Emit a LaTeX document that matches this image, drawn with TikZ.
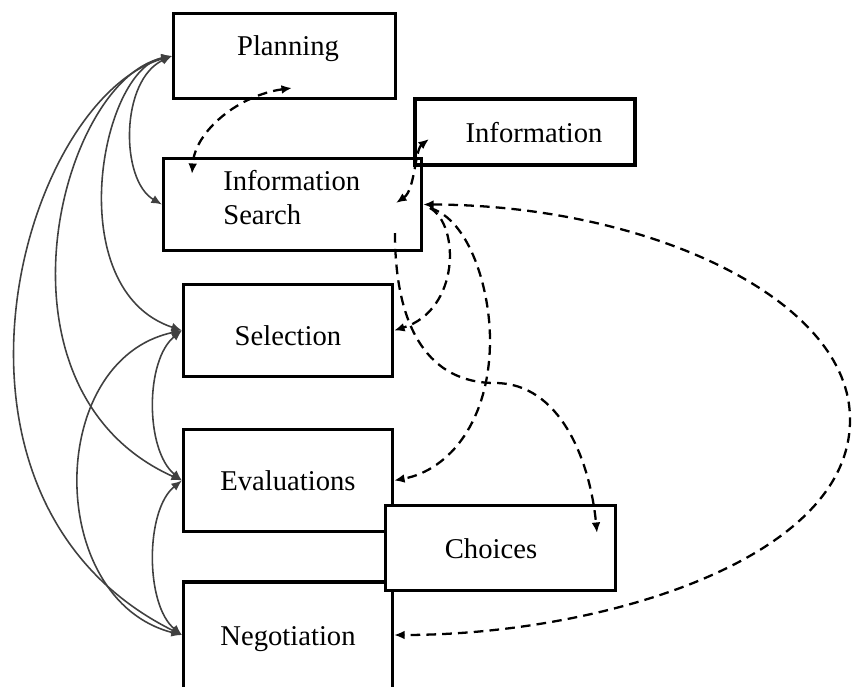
\documentclass[tikz,border=0pt]{standalone}
\usepackage{fontspec}
\setmainfont{Liberation Serif}
\usetikzlibrary{arrows.meta,calc}

\begin{document}
\begin{tikzpicture}[x=0.02cm, y=0.02cm,
    >={Latex[length=6pt,width=5pt]},
    box/.style={draw, line width=1.8pt, inner sep=0pt},
    lbl/.style={font=\fontsize{16.3}{19}\selectfont, inner sep=0pt},
    link/.style={draw=black!75, line width=0.9pt, <->},
    flow/.style={line width=1.3pt, dash pattern=on 5.5pt off 3.5pt}]

    \useasboundingbox (0,0) rectangle (853,-687);
    \clip (0,0) rectangle (853,-687);

    \node[box, minimum width=4.44cm, minimum height=1.70cm] at (284.5,-56) (plan) {};
    \node[box, line width=2.4pt, minimum width=4.40cm, minimum height=1.32cm] at (525,-132) (info) {};
    \node[box, minimum width=5.16cm, minimum height=1.84cm] at (292.5,-204.5) (isearch) {};
    \node[box, minimum width=4.18cm, minimum height=1.84cm] at (288,-330.5) (sel) {};
    \node[box, minimum width=4.18cm, minimum height=2.04cm] at (288,-480.5) (eval) {};
    \node[box, minimum width=4.18cm, minimum height=2.36cm] at (288,-641) (neg) {};
    \node[box, fill=white, minimum width=4.60cm, minimum height=1.70cm] at (500.5,-548) (choice) {};

    \node[lbl, anchor=base] at (288,-55) (planT) {Planning};
    \node[lbl, anchor=base] at (534,-142) (infoT) {Information};
    \node[lbl, anchor=base west] at (223,-190) (isearchT) {Information};
    \node[lbl, anchor=base west] at (223,-224) (isearchTT) {Search};
    \node[lbl, anchor=base] at (288,-345) (selT) {Selection};
    \node[lbl, anchor=base] at (288,-490) (evalT) {Evaluations};
    \node[lbl, anchor=base] at (288,-645) (negT) {Negotiation};
    \node[lbl, anchor=base] at (491,-558) (choiceT) {Choices};

    \coordinate (negW) at ($(neg.west)+(0,6)$);
    \coordinate (negE) at ($(neg.east)+(0,6)$);
    \coordinate (planIn) at (292,-88);
    \coordinate (isIn) at (192,-174);
    \coordinate (infoIn) at (429,-139);
    \coordinate (isInR) at (396,-203);
    \coordinate (isOut) at (430,-208);
    \coordinate (isDown) at (395,-233);
    \coordinate (choiceIn) at (597,-533);

    \draw[link] (plan.west) .. controls (120,-80) and (120,-180) .. (isearch.west);
    \draw[link] (plan.west) .. controls (100,-70) and (60,-290) .. (sel.west);
    \draw[link] (plan.west) .. controls (60,-80) and (-20,-390) .. (eval.west);
    \draw[link] (plan.west) .. controls (20,-100) and (-90,-500) .. (negW);
    \draw[link] (sel.west) .. controls (145,-360) and (145,-450) .. (eval.west);
    \draw[link] (sel.west) .. controls (45,-360) and (45,-600) .. (negW);
    \draw[link] (eval.west) .. controls (145,-510) and (145,-605) .. (negW);

    \draw[flow, <->] (planIn) .. controls (240,-95) and (195,-130) .. (isIn);
    \draw[flow, <->] (infoIn) .. controls (415,-150) and (415,-190) .. (isInR);
    \draw[flow, <->] (isearch.east) .. controls (650,-205) and (851,-300) .. (850,-420)
        .. controls (850,-560) and (600,-635) .. (negE);
    \draw[flow, ->] (isOut) .. controls (460,-225) and (460,-310) .. (sel.east);
    \draw[flow, ->] (isOut) .. controls (470,-220) and (490,-290) .. (490,-340)
        .. controls (490,-420) and (450,-470) .. (eval.east);
    \draw[flow, ->] (isDown) .. controls (395,-330) and (430,-383) .. (495,-383)
        .. controls (560,-383) and (590,-460) .. (choiceIn);

\end{tikzpicture}
\end{document}
